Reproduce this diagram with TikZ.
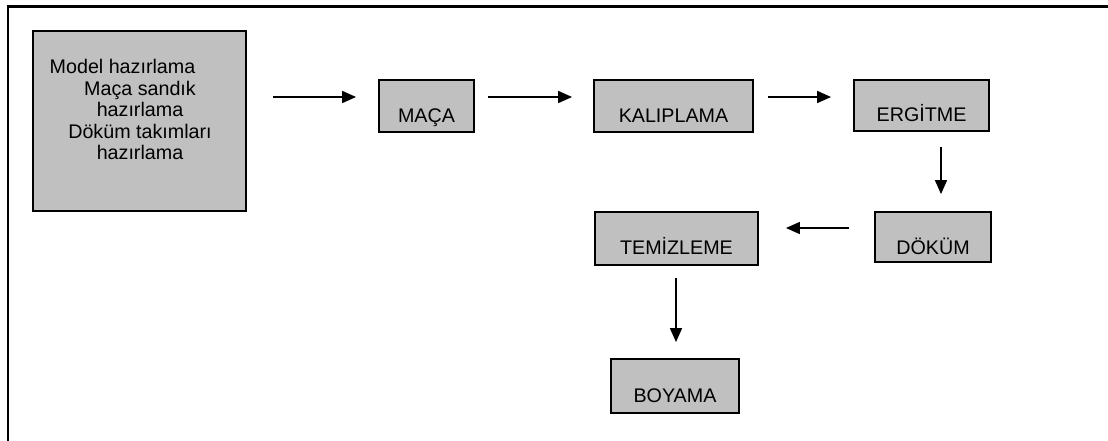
\documentclass[tikz,border=0pt]{standalone}
\usepackage{fontspec}
\setmainfont{Liberation Sans}
\usetikzlibrary{arrows.meta}
\definecolor{boxgray}{RGB}{192,192,192}
\begin{document}
\begin{tikzpicture}[x=1pt,y=-1pt,
  every node/.style={font=\fontsize{19.7}{21.5}\selectfont},
  prepbox/.style={draw=black, line width=1.8pt, fill=boxgray, inner sep=0pt},
  stepbox/.style={draw=black, line width=1.8pt, fill=boxgray, inner sep=0pt, text depth=10pt},
  arr/.style={line width=1.6pt, -{Triangle[length=14pt,width=12pt]}},
  frame/.style={line width=2.2pt}
]
\useasboundingbox (0,0) rectangle (1108,440);
\clip (0,0) rectangle (1108,440);
\draw[frame] (8,470) -- (8,6.5) -- (1140,6.5);

\node[prepbox, minimum width=213pt, minimum height=180pt] (prep) at (139.5,121) {};
\node[align=center, inner sep=0pt] (preptext) at ([shift={(0.5,-11.2)}]prep.center)
  {Model hazırlama\hspace*{35pt}\\Maça sandık\\hazırlama\\Döküm takımları\\hazırlama};

\node[stepbox, minimum width=95pt, text height=42pt] (maca) at (426.5,106) {MAÇA};
\node[stepbox, minimum width=159pt, text height=42pt] (kalip) at (673.5,106) {KALIPLAMA};
\node[stepbox, minimum width=135pt, text height=41pt] (ergit) at (921.5,105.5) {ERGİTME};
\node[stepbox, minimum width=116pt, text height=42pt, text depth=8pt] (dokum) at (933,237) {DÖKÜM};
\node[stepbox, minimum width=163pt, text height=42pt, text depth=11pt] (temiz) at (676.5,238.5) {TEMİZLEME};
\node[stepbox, minimum width=128pt, text height=43pt, text depth=11pt] (boya) at (675,386) {BOYAMA};

\draw[arr] ([shift={(26,-24)}]prep.east) -- ([shift={(-22,-9)}]maca.west);
\draw[arr] ([shift={(13,-9)}]maca.east) -- ([shift={(-21,-9)}]kalip.west);
\draw[arr] ([shift={(14,-9)}]kalip.east) -- ([shift={(-22,-8.5)}]ergit.west);
\draw[arr] ([shift={(19.5,15)}]ergit.south) -- ([shift={(8,-17)}]dokum.north);
\draw[arr] ([shift={(-25,-9)}]dokum.west) -- ([shift={(27,-10.5)}]temiz.east);
\draw[arr] ([shift={(-0.5,12)}]temiz.south) -- ([shift={(1,-16)}]boya.north);
\end{tikzpicture}
\end{document}
